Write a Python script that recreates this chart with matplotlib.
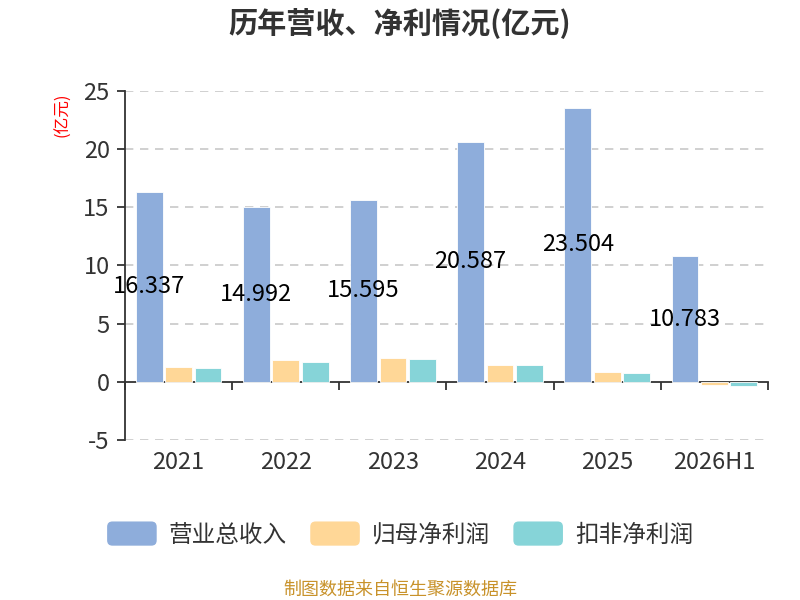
import matplotlib
matplotlib.use("Agg")
import matplotlib.pyplot as plt
import numpy as np
from matplotlib.container import BarContainer
from matplotlib.legend_handler import HandlerPatch
from matplotlib.patches import FancyBboxPatch

plt.rcParams['font.family'] = ['Noto Sans CJK SC', 'DejaVu Sans']
plt.rcParams['axes.unicode_minus'] = False

# data
years = ["2021", "2022", "2023", "2024", "2025", "2026H1"]
revenue = [16.337, 14.992, 15.595, 20.587, 23.504, 10.783]
net_profit = [1.23, 1.84, 2.07, 1.47, 0.86, -0.29]
net_profit_deducted = [1.15, 1.72, 1.98, 1.41, 0.78, -0.34]
series_names = ["营业总收入", "归母净利润", "扣非净利润"]
colors = ["#8eaddb", "#ffd797", "#86d4d8"]
yticks = [-5, 0, 5, 10, 15, 20, 25]


class RoundBox(HandlerPatch):
    # legend swatch with rounded corners
    def create_artists(self, legend, orig_handle, xdescent, ydescent,
                       width, height, fontsize, trans):
        r = min(width, height) * 0.22
        fc = orig_handle.patches[0].get_facecolor()
        p = FancyBboxPatch((-xdescent + r, -ydescent + r), width - 2 * r, height - 2 * r,
                           boxstyle=f"round,pad={r}", facecolor=fc,
                           edgecolor="none", transform=trans)
        return [p]


fig = plt.figure(figsize=(8, 6), dpi=100)
ax = fig.add_axes([0.15625, 0.2667, 0.80375, 0.5821])

x = np.arange(len(years))
w = 0.25
off = 0.275
bars = []
for i, (vals, name, c) in enumerate(zip([revenue, net_profit, net_profit_deducted], series_names, colors)):
    b = ax.bar(x + (i - 1) * off, vals, width=w, color=c, label=name,
               edgecolor="white", linewidth=0.6, zorder=3)
    bars.append(b)

# revenue labels sit in the middle of the blue bar
for xi, v in zip(x, revenue):
    ax.text(xi - off, v / 2, f"{v:.3f}", ha="center", va="center",
            fontsize=17, color="black", zorder=5)

ax.set_xlim(-0.5, len(years) - 0.5)
ax.set_ylim(-5, 25)
ax.set_yticks(yticks)
for t in yticks:
    if t != 0:
        ax.axhline(t, color="#c8c8c8", linestyle=(0, (5, 4)), linewidth=1.2, zorder=1)

ax.spines["top"].set_visible(False)
ax.spines["right"].set_visible(False)
ax.spines["bottom"].set_position(("data", 0))
ax.spines["bottom"].set_color("#333333")
ax.spines["left"].set_color("#333333")
ax.spines["bottom"].set_linewidth(1.3)
ax.spines["left"].set_linewidth(1.3)

ax.set_xticks(np.arange(-0.5, len(years), 1.0))
ax.set_xticklabels([])
ax.tick_params(axis="x", direction="out", length=6, width=1.3, color="#333333")
ax.tick_params(axis="y", direction="out", length=6, width=1.3, color="#333333",
               labelsize=17, labelcolor="#333333", pad=5)

sec = ax.secondary_xaxis(location=0)
sec.set_xticks(x)
sec.set_xticklabels(years)
sec.tick_params(length=0, labelsize=17, labelcolor="#333333", pad=8)
sec.spines["bottom"].set_visible(False)

fig.text(0.5, 0.962, "历年营收、净利情况(亿元)", ha="center", va="center",
         fontsize=21, fontweight="bold", color="#333333")
fig.text(0.078, 0.808, "(亿元)", ha="center", va="center", rotation=90,
         fontsize=12, color="red")

leg = fig.legend(handles=bars, labels=series_names, loc="center",
                 bbox_to_anchor=(0.5, 0.11), ncol=3, frameon=False,
                 fontsize=17, handlelength=2.1, handleheight=1.2,
                 handletextpad=0.5, columnspacing=1.0, labelcolor="#333333",
                 handler_map={BarContainer: RoundBox()})

fig.text(0.5, 0.017, "制图数据来自恒生聚源数据库", ha="center", va="center",
         fontsize=13, color="#c8922a")

fig.savefig("out.png", dpi=100)
